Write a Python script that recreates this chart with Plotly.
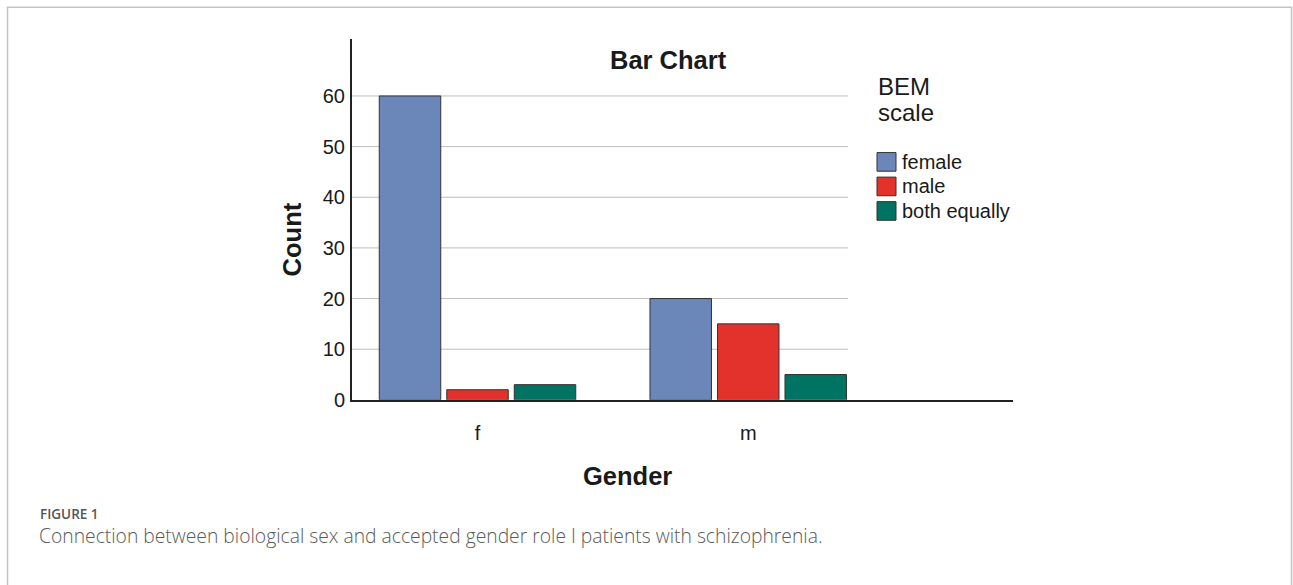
import plotly.graph_objects as go

# ---- data ----
categories = ["f", "m"]
series_names = ["female", "male", "both equally"]
female_counts = [60, 20]
male_counts = [2, 15]
both_counts = [3, 5]
series_values = [female_counts, male_counts, both_counts]
series_colors = ["#6b86b8", "#e3312b", "#007362"]
y_ticks = [0, 10, 20, 30, 40, 50, 60]

W, H = 1293, 585


def px(x):
    return x / W


def py(y):
    return 1 - y / H


FONT = "Liberation Sans, Arial, Helvetica, sans-serif"
CAP_FONT = "Open Sans, sans-serif"

fig = go.Figure()
for name, vals, col in zip(series_names, series_values, series_colors):
    fig.add_trace(go.Bar(
        x=categories, y=vals, name=name,
        marker=dict(color=col, line=dict(color="#333333", width=1)),
        showlegend=False,
    ))

x0_plot, x1_plot = 352, 1013
y_top, y_bot = 40, 407.5

shapes = []
# outer frame
shapes.append(dict(type="rect", xref="paper", yref="paper",
                   x0=px(7.5), x1=px(1291.5), y0=py(7.5), y1=-0.2,
                   line=dict(color="#c4c4c4", width=1.5), fillcolor="rgba(0,0,0,0)", layer="below"))
# gridlines (only span the bar region)
for v in y_ticks[1:]:
    shapes.append(dict(type="line", xref="paper", yref="y",
                       x0=px(x0_plot), x1=px(848), y0=v, y1=v,
                       line=dict(color="#bdbdbd", width=1), layer="below"))

annotations = []
annotations.append(dict(text="<b>Bar Chart</b>", x=px(668.5), y=py(61), xref="paper", yref="paper",
                        showarrow=False, xanchor="center", yanchor="middle",
                        font=dict(family=FONT, size=25.5, color="#1a1a1a")))
annotations.append(dict(text="<b>Count</b>", x=px(292), y=py(244), xref="paper", yref="paper",
                        showarrow=False, xanchor="center", yanchor="middle", textangle=-90,
                        font=dict(family=FONT, size=25.5, color="#1a1a1a")))
annotations.append(dict(text="<b>Gender</b>", x=px(627), y=py(485), xref="paper", yref="paper",
                        showarrow=False, xanchor="center", yanchor="middle",
                        font=dict(family=FONT, size=25.5, color="#1a1a1a")))
# legend title
annotations.append(dict(text="BEM", x=px(876), y=py(88), xref="paper", yref="paper",
                        showarrow=False, xanchor="left", yanchor="middle",
                        font=dict(family=FONT, size=24, color="#1a1a1a")))
annotations.append(dict(text="scale", x=px(876), y=py(115), xref="paper", yref="paper",
                        showarrow=False, xanchor="left", yanchor="middle",
                        font=dict(family=FONT, size=24, color="#1a1a1a")))
# legend items
for i, (name, col) in enumerate(zip(series_names, series_colors)):
    cy = 165 + i * 25
    shapes.append(dict(type="rect", xref="paper", yref="paper",
                       x0=px(877), x1=px(896), y0=py(cy - 9.5), y1=py(cy + 9.5),
                       fillcolor=col, line=dict(color="#333333", width=1)))
    annotations.append(dict(text=name, x=px(900), y=py(cy), xref="paper", yref="paper",
                            showarrow=False, xanchor="left", yanchor="middle",
                            font=dict(family=FONT, size=20, color="#1a1a1a")))
# caption
annotations.append(dict(text="FIGURE 1", x=px(38), y=py(524), xref="paper", yref="paper",
                        showarrow=False, xanchor="left", yanchor="middle",
                        font=dict(family=CAP_FONT, size=13.5, color="#555555", weight=600)))
annotations.append(dict(text="Connection between biological sex and accepted gender role I patients with schizophrenia.",
                        x=px(37), y=py(546), xref="paper", yref="paper",
                        showarrow=False, xanchor="left", yanchor="middle",
                        font=dict(family=CAP_FONT, size=19.3, color="#5a5a5a", weight=300)))

fig.update_layout(
    width=W, height=H,
    margin=dict(l=0, r=0, t=0, b=0),
    paper_bgcolor="white", plot_bgcolor="white",
    barmode="group", bargap=0.252, bargroupgap=0.089,
    font=dict(family=FONT, size=20, color="#1a1a1a"),
    xaxis=dict(domain=[px(x0_plot), px(x1_plot)], range=[-0.4636, 1.978],
               showgrid=False, zeroline=False, showline=True, linecolor="#222222", linewidth=2,
               ticks="", tickfont=dict(size=20), ticklabelstandoff=14, fixedrange=True),
    yaxis=dict(domain=[py(y_bot), py(y_top)], range=[0, 71.2],
               tickvals=y_ticks, showgrid=False, zeroline=False, showline=True,
               linecolor="#222222", linewidth=2, ticks="", tickfont=dict(size=20),
               ticklabelstandoff=1, fixedrange=True),
    shapes=shapes, annotations=annotations,
    showlegend=False,
)

fig.write_html("out.html", config={"displayModeBar": False},
               post_script="document.body.style.margin='0';document.body.style.overflow='hidden';")
